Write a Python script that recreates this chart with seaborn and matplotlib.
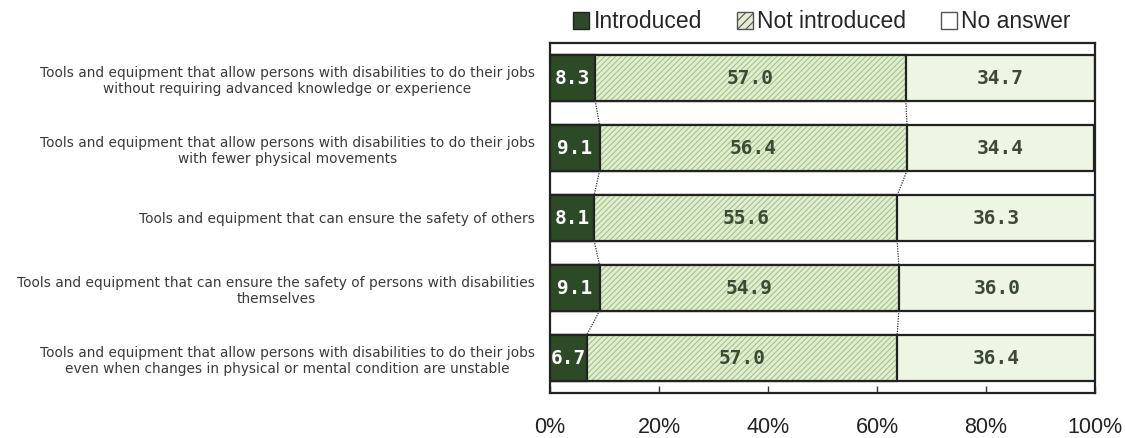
import matplotlib
matplotlib.use("Agg")
import matplotlib.pyplot as plt
from matplotlib.patches import Patch
import seaborn as sns
import pandas as pd
import numpy as np

categories = [
    "Tools and equipment that allow persons with disabilities to do their jobs\nwithout requiring advanced knowledge or experience",
    "Tools and equipment that allow persons with disabilities to do their jobs\nwith fewer physical movements",
    "Tools and equipment that can ensure the safety of others",
    "Tools and equipment that can ensure the safety of persons with disabilities\nthemselves",
    "Tools and equipment that allow persons with disabilities to do their jobs\neven when changes in physical or mental condition are unstable",
]
introduced = [8.3, 9.1, 8.1, 9.1, 6.7]
not_introduced = [57.0, 56.4, 55.6, 54.9, 57.0]
no_answer = [34.7, 34.4, 36.3, 36.0, 36.4]
series_names = ["Introduced", "Not introduced", "No answer"]
x_ticks = [0, 20, 40, 60, 80, 100]
x_tick_labels = ["0%", "20%", "40%", "60%", "80%", "100%"]

DARK = "#2c4a25"
MID = "#e2eed2"
HATCH = "#a4c48a"
LIGHT = "#eef5e3"
EDGE = "#222222"
TXT = "#3b4a33"

sns.set_theme(style="white")
plt.rcParams["font.family"] = ["Liberation Sans", "DejaVu Sans"]
plt.rcParams["hatch.color"] = HATCH
plt.rcParams["hatch.linewidth"] = 0.8

df = pd.DataFrame({
    "cat": categories,
    "intro": introduced,
    "notin": not_introduced,
    "noans": no_answer,
})
df["cum2"] = df["intro"] + df["notin"]
df["total"] = df["cum2"] + df["noans"]

fig = plt.figure(figsize=(11.26, 4.38), dpi=100)
ax = fig.add_axes([550 / 1126, 1 - 393 / 438, 545 / 1126, 350 / 438])

W = 0.65

def layer(col, **props):
    n0 = len(ax.patches)
    sns.barplot(data=df, x=col, y="cat", orient="h", width=W, ax=ax,
                color=LIGHT, saturation=1, errorbar=None)
    for p in ax.patches[n0:]:
        p.set(**props)

layer("total", facecolor=LIGHT, edgecolor=EDGE, linewidth=1.6)
layer("cum2", facecolor=MID, edgecolor=HATCH, linewidth=0, hatch="//////")
layer("cum2", facecolor="none", edgecolor=EDGE, linewidth=1.6)
layer("intro", facecolor=DARK, edgecolor=EDGE, linewidth=1.6)

# series (connector) lines
ypos = np.arange(len(categories))
for vals in (df["intro"].values, df["cum2"].values):
    for i in range(len(vals) - 1):
        ax.plot([vals[i], vals[i + 1]], [ypos[i] + W / 2, ypos[i + 1] - W / 2],
                color="#333333", lw=0.9, ls=(0, (1, 1)))

# value labels
for i in range(len(categories)):
    a, b, c = introduced[i], not_introduced[i], no_answer[i]
    ax.text(a / 2, i, f"{a:.1f}", ha="center", va="center", color="white",
            fontsize=14, fontweight="bold", family="DejaVu Sans Mono")
    ax.text(a + b / 2, i, f"{b:.1f}", ha="center", va="center", color=TXT,
            fontsize=14, fontweight="bold", family="DejaVu Sans Mono")
    ax.text(a + b + c / 2, i, f"{c:.1f}", ha="center", va="center", color=TXT,
            fontsize=14, fontweight="bold", family="DejaVu Sans Mono")

ax.set_xlim(0, 100)
ax.set_ylim(len(categories) - 0.5, -0.5)
ax.set_xticks(x_ticks)
ax.set_xticklabels(x_tick_labels, fontsize=15.5, color="#222222")
ax.tick_params(axis="x", direction="in", length=5, width=1, color="#333333",
               pad=17, bottom=True)
ax.tick_params(axis="y", length=0, pad=11)
for lab in ax.get_yticklabels():
    lab.set_fontsize(9.9)
    lab.set_family("DejaVu Sans")
    lab.set_color("#3a3a3a")
    lab.set_multialignment("center")
    lab.set_linespacing(1.2)
ax.set_xlabel("")
ax.set_ylabel("")
for s in ax.spines.values():
    s.set_visible(True)
    s.set_color(EDGE)
    s.set_linewidth(1.6)

handles = [
    Patch(facecolor=DARK, edgecolor=EDGE, lw=1),
    Patch(facecolor=MID, edgecolor="#555555", lw=1, hatch="////"),
    Patch(facecolor="white", edgecolor="#555555", lw=1),
]
fig.legend(handles, series_names, loc="center", bbox_to_anchor=(822 / 1126, 1 - 22 / 438),
           ncol=3, frameon=False, fontsize=16.5, handlelength=0.7, handleheight=0.7,
           handletextpad=0.2, columnspacing=1.5, borderaxespad=0)

fig.savefig("out.png", dpi=100)
